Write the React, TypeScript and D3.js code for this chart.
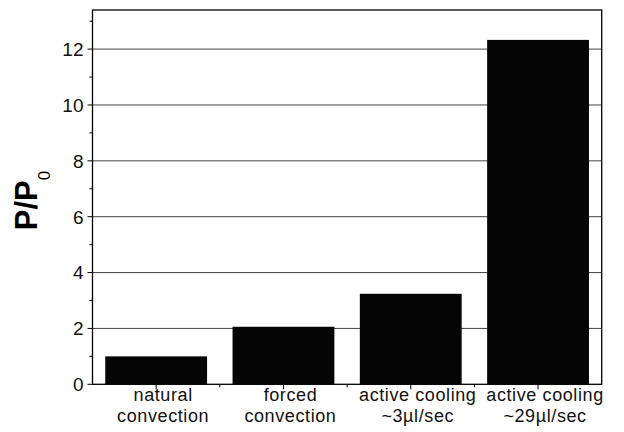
import React from "react";
import * as d3 from "d3";

const categories = ["natural|convection", "forced|convection", "active cooling|~3\u00b5l/sec", "active cooling|~29\u00b5l/sec"];
const values = [1.0, 2.06, 3.24, 12.33];
const yTicks = [0, 2, 4, 6, 8, 10, 12];
const yMinorTicks = [1, 3, 5, 7, 9, 11, 13];

const W = 624;
const H = 432;
const left = 92.5;
const right = 601.7;
const top = 10;
const bottom = 384.3;
const FONT = "'Liberation Sans', Arial, Helvetica, sans-serif";

export default function App() {
  const x = d3.scaleBand<string>().domain(categories).range([left, right]).paddingInner(0.2).paddingOuter(0.1);
  const y = d3.scaleLinear().domain([0, 13.4]).range([bottom, top]);
  const step = x.step();
  const boundaries = categories.slice(1).map((c) => (x(c) as number) - (step * 0.2) / 2);

  return (
    <svg width={W} height={H} style={{ position: "absolute", left: 0, top: 0, background: "#fff" }}>
      <rect x={0} y={0} width={W} height={H} fill="#fff" />
      {yTicks.filter((t) => t > 0).map((t) => (
        <line key={"g" + t} x1={left} x2={right} y1={y(t)} y2={y(t)} stroke="#444" strokeWidth={1} />
      ))}
      {categories.map((c, i) => (
        <rect key={c} x={x(c)} y={y(values[i])} width={x.bandwidth()} height={bottom - y(values[i])} fill="#050505" />
      ))}
      <rect x={left} y={top} width={right - left} height={bottom - top} fill="none" stroke="#000" strokeWidth={1.3} />
      {yTicks.map((t) => (
        <g key={"yt" + t}>
          <line x1={left - 5} x2={left} y1={y(t)} y2={y(t)} stroke="#000" strokeWidth={1} />
          <text x={left - 9} y={y(t)} dy="0.36em" textAnchor="end" fontFamily={FONT} fontSize={19} fill="#111">
            {t}
          </text>
        </g>
      ))}
      {yMinorTicks.filter((t) => y(t) > top).map((t) => (
        <line key={"ym" + t} x1={left - 3} x2={left} y1={y(t)} y2={y(t)} stroke="#000" strokeWidth={1} />
      ))}
      {categories.map((c) => {
        const cx = (x(c) as number) + x.bandwidth() / 2;
        return <line key={"xt" + c} x1={cx} x2={cx} y1={bottom} y2={bottom + 5} stroke="#000" strokeWidth={1} />;
      })}
      {boundaries.map((b, i) => (
        <line key={"xb" + i} x1={b} x2={b} y1={bottom} y2={bottom + 3} stroke="#000" strokeWidth={1} />
      ))}
      {categories.map((c) => {
        const cx = (x(c) as number) + x.bandwidth() / 2 + 7;
        const lines = c.split("|");
        return (
          <text key={"xl" + c} textAnchor="middle" fontFamily={FONT} fontSize={18} letterSpacing={0.6} fill="#111">
            <tspan x={cx} y={401}>{lines[0]}</tspan>
            <tspan x={cx} y={421.5}>{lines[1]}</tspan>
          </text>
        );
      })}
      <text transform={`translate(37,200.5) rotate(-90)`} textAnchor="middle" fontFamily={FONT} fill="#000">
        <tspan fontSize={31} fontWeight="bold">P/P</tspan>
        <tspan fontSize={17} dy={13}>0</tspan>
      </text>
    </svg>
  );
}
